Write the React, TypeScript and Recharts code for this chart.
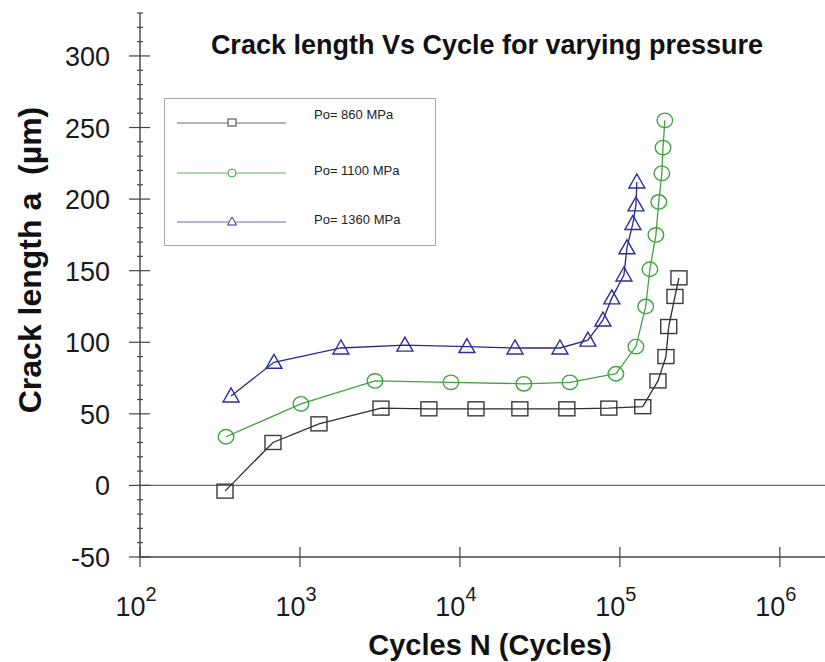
import React from 'react';
import { LineChart, Line, XAxis, YAxis, ReferenceLine, Legend } from 'recharts';

// ---- data ----
const seriesNames = ['Po= 860 MPa', 'Po= 1100 MPa', 'Po= 1360 MPa'];

const cycles860 = [340, 678, 1315, 3210, 6400, 12600, 23700, 46600, 85300, 139000, 173000, 194000, 202000, 221000, 234000];
const crack860 = [-4, 30, 43, 54, 53.5, 53.5, 53.5, 53.5, 54, 55, 73, 90, 111, 132, 145];

const cycles1100 = [345, 1015, 2945, 8790, 25100, 48700, 94400, 126000, 145000, 154000, 168000, 175000, 183000, 186000, 191000];
const crack1100 = [34, 57, 73, 72, 71, 72, 78, 97, 125, 151, 175, 198, 218, 236, 255];

const cycles1360 = [371, 688, 1803, 4530, 11060, 22100, 42200, 63100, 78300, 89100, 106000, 110700, 120600, 126000, 127700];
const crack1360 = [62.5, 86, 96, 98, 97, 96, 96, 101.5, 115.5, 131, 147, 166, 183, 196, 212];

const xTicks = [100, 1000, 10000, 100000, 1000000];
const xTickExponents = ['2', '3', '4', '5', '6'];
const yMajorTicks = [-50, 0, 50, 100, 150, 200, 250, 300];
const yAllTicks = Array.from({ length: 39 }, (_, i) => -50 + i * 10);

const toRows = (ns: number[], as: number[]) => ns.map((n, i) => ({ n, a: as[i] }));
const data860 = toRows(cycles860, crack860);
const data1100 = toRows(cycles1100, crack1100);
const data1360 = toRows(cycles1360, crack1360);

const FONT = '"Liberation Sans", Arial, sans-serif';
const C_BLACK = '#2c2c2c';
const C_BLACK_M = '#3a3a3a';
const C_GREEN = '#3fa33f';
const C_BLUE = '#28288e';
const C_BLUE_M = '#2d2da0';

const SquareDot = (props: any) => {
  const { cx, cy, index } = props;
  if (cx == null || cy == null) return null;
  return <rect key={`sq${index}`} x={cx - 8} y={cy - 7} width={16} height={14} fill="none" stroke={C_BLACK_M} strokeWidth={1.4} />;
};
const CircleDot = (props: any) => {
  const { cx, cy, index } = props;
  if (cx == null || cy == null) return null;
  return <ellipse key={`ci${index}`} cx={cx} cy={cy} rx={7.8} ry={7.2} fill="none" stroke={C_GREEN} strokeWidth={1.4} />;
};
const TriDot = (props: any) => {
  const { cx, cy, index } = props;
  if (cx == null || cy == null) return null;
  return (
    <polygon
      key={`tr${index}`}
      points={`${cx},${cy - 8} ${cx - 8},${cy + 6} ${cx + 8},${cy + 6}`}
      fill="none"
      stroke={C_BLUE_M}
      strokeWidth={1.4}
    />
  );
};

const YTick = (props: any) => {
  const { x, y, payload } = props;
  const v = payload.value;
  const major = yMajorTicks.includes(v);
  return (
    <g>
      {major ? (
        <line x1={x - 11} x2={x + 10} y1={y} y2={y} stroke="#444" strokeWidth={1.2} />
      ) : (
        <line x1={x - 3} x2={x + 3} y1={y} y2={y} stroke="#444" strokeWidth={1.2} />
      )}
      {major && (
        <text x={x - 30} y={y} dy={10} textAnchor="end" fontSize={27} fill="#1a1a1a" fontFamily={FONT}>
          {v}
        </text>
      )}
    </g>
  );
};

const XTick = (props: any) => {
  const { x, y, payload, index } = props;
  const exp = xTickExponents[xTicks.indexOf(payload.value)] ?? xTickExponents[index];
  return (
    <g>
      <line x1={x} x2={x} y1={y - 10} y2={y + 10} stroke="#444" strokeWidth={1.2} />
      <text x={x - 4} y={y + 59} textAnchor="middle" fontSize={27} fill="#1a1a1a" fontFamily={FONT}>
        <tspan>10</tspan>
        <tspan dy={-15} fontSize={20}>{exp}</tspan>
      </text>
    </g>
  );
};

const LegendBox = () => {
  const rows = [
    { name: seriesNames[0], color: '#6a6a6a', mk: 'sq', mc: C_BLACK_M },
    { name: seriesNames[1], color: '#5cb85c', mk: 'ci', mc: C_GREEN },
    { name: seriesNames[2], color: '#6a6ab0', mk: 'tr', mc: C_BLUE_M },
  ];
  const lineY = [25, 75, 124];
  const textY = [21, 77, 126];
  return (
    <svg width={272} height={148} style={{ display: 'block' }}>
      <rect x={0.5} y={0.5} width={271} height={147} fill="#fff" stroke="#a9a9a9" />
      {rows.map((r, i) => {
        const cy = lineY[i];
        const cx = 68;
        return (
          <g key={r.name}>
            <line x1={13} x2={122} y1={cy} y2={cy} stroke={r.color} strokeWidth={1} />
            {r.mk === 'sq' && <rect x={cx - 4} y={cy - 4} width={8} height={7} fill="#fff" stroke={r.mc} strokeWidth={1} />}
            {r.mk === 'ci' && <circle cx={cx} cy={cy} r={4} fill="#fff" stroke={r.mc} strokeWidth={1} />}
            {r.mk === 'tr' && (
              <polygon points={`${cx},${cy - 5} ${cx - 4.5},${cy + 3} ${cx + 4.5},${cy + 3}`} fill="#fff" stroke={r.mc} strokeWidth={1} />
            )}
            <text x={150} y={textY[i]} fontSize={13} fill="#222" fontFamily={FONT}>
              {r.name}
            </text>
          </g>
        );
      })}
    </svg>
  );
};

export default function App() {
  return (
    <div style={{ position: 'absolute', left: 0, top: 0, width: 825, height: 662, overflow: 'hidden', background: '#fff' }}>
      <LineChart width={828} height={662} margin={{ top: 13, right: 0, bottom: 0, left: 0 }}>
        <XAxis
          xAxisId="bottom"
          dataKey="n"
          type="number"
          scale="log"
          domain={[100, 2000000]}
          allowDataOverflow
          ticks={xTicks}
          tick={<XTick />}
          tickLine={false}
          tickSize={0}
          tickMargin={0}
          axisLine={{ stroke: '#444', strokeWidth: 1.3 }}
          height={105}
          interval={0}
        />
        <XAxis
          xAxisId="top"
          orientation="top"
          dataKey="n"
          type="number"
          scale="log"
          domain={[100, 2000000]}
          allowDataOverflow
          ticks={xTicks}
          tick={false}
          mirror
          tickSize={7}
          tickLine={{ stroke: '#555' }}
          axisLine={{ stroke: '#555', strokeWidth: 1.2 }}
          height={0}
          interval={0}
        />
        <YAxis
          yAxisId="left"
          type="number"
          domain={[-50, 330]}
          allowDataOverflow
          ticks={yAllTicks}
          tick={<YTick />}
          tickLine={false}
          tickSize={0}
          tickMargin={0}
          axisLine={{ stroke: '#333', strokeWidth: 1.3 }}
          width={140}
          interval={0}
        />
        <YAxis
          yAxisId="right"
          orientation="right"
          type="number"
          domain={[-50, 330]}
          allowDataOverflow
          ticks={yMajorTicks}
          tick={false}
          mirror
          tickSize={5}
          tickLine={{ stroke: '#c8c8c8' }}
          axisLine={{ stroke: '#c8c8c8' }}
          width={0}
          interval={0}
        />
        <ReferenceLine xAxisId="bottom" yAxisId="left" y={0} stroke="#666" strokeWidth={1.3} />
        <Line
          type="linear"
          xAxisId="bottom"
          yAxisId="left"
          data={data860}
          dataKey="a"
          name={seriesNames[0]}
          stroke={C_BLACK}
          strokeWidth={1.3}
          dot={SquareDot}
          isAnimationActive={false}
        />
        <Line
          type="linear"
          xAxisId="bottom"
          yAxisId="left"
          data={data1100}
          dataKey="a"
          name={seriesNames[1]}
          stroke={C_GREEN}
          strokeWidth={1.3}
          dot={CircleDot}
          isAnimationActive={false}
        />
        <Line
          type="linear"
          xAxisId="bottom"
          yAxisId="left"
          data={data1360}
          dataKey="a"
          name={seriesNames[2]}
          stroke={C_BLUE}
          strokeWidth={1.3}
          dot={TriDot}
          isAnimationActive={false}
        />
        <Legend
          layout="horizontal"
          verticalAlign="middle"
          align="center"
          content={<LegendBox />}
          wrapperStyle={{ position: 'absolute', left: 164, top: 98, width: 272, height: 148 }}
        />
        <text x={487} y={54} textAnchor="middle" fontSize={27} fontWeight="bold" fill="#111" fontFamily={FONT}>
          Crack length Vs Cycle for varying pressure
        </text>
        <text x={490} y={655} textAnchor="middle" fontSize={29} fontWeight="bold" fill="#111" fontFamily={FONT}>
          Cycles N (Cycles)
        </text>
        <text
          x={41}
          y={260}
          transform="rotate(-90, 41, 260)"
          textAnchor="middle"
          fontSize={32}
          fontWeight="bold"
          fill="#111"
          fontFamily={FONT}
        >
          {'Crack length a\u00a0 (µm)'}
        </text>
      </LineChart>
    </div>
  );
}
